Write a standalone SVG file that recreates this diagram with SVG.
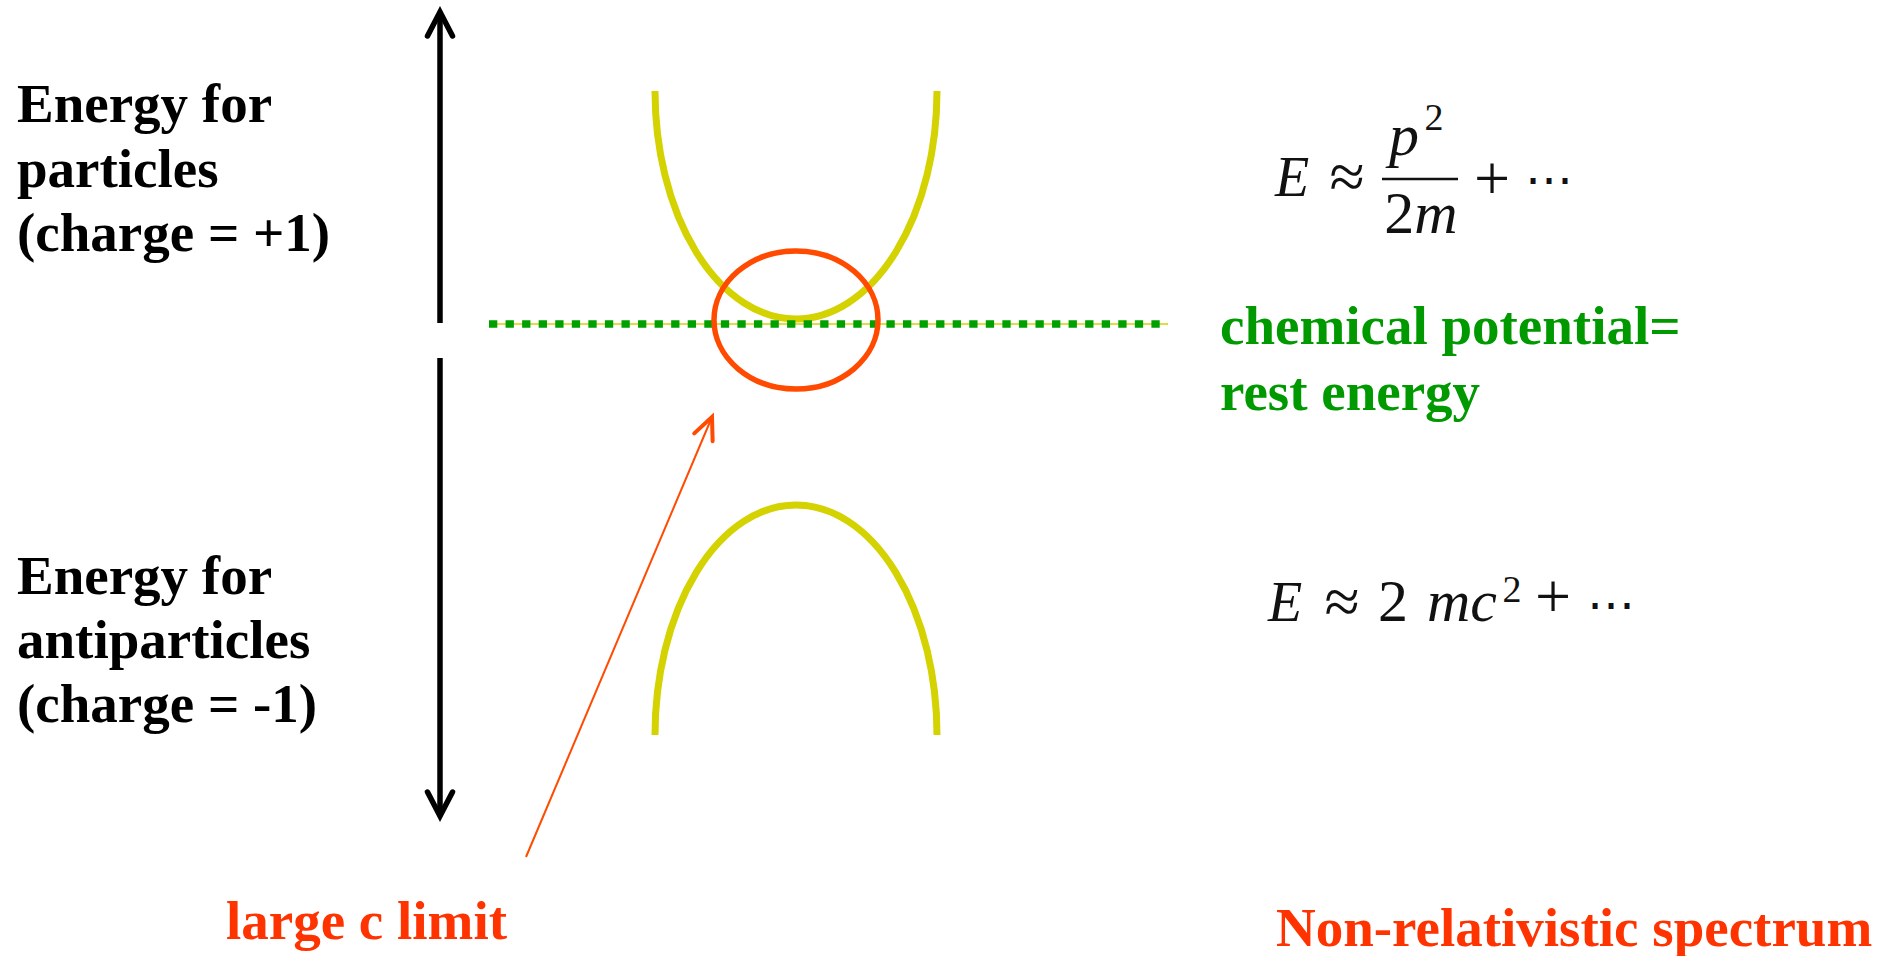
<svg xmlns="http://www.w3.org/2000/svg" width="1892" height="956" viewBox="0 0 1892 956">
<style>
.lbl{font-family:"Liberation Serif","Times New Roman",serif;font-weight:bold;font-size:55px}
.blk{fill:#000}
.grn{fill:#009a00}
.red{fill:#ff3300}
.math{font-family:"Liberation Serif","DejaVu Serif",serif;font-size:56px;fill:#111}
.it{font-style:italic}
.big{font-size:60px}
.op{font-size:64px}
.dots{font-size:48px}
.sup{font-size:38px}
.curve{fill:none;stroke:#d4d200;stroke-width:7}
</style>
<defs>
<marker id="blackHead" markerUnits="userSpaceOnUse" markerWidth="40" markerHeight="40" refX="30" refY="20" orient="auto">
<path d="M6 7.5 L30 20 L6 32.5" fill="none" stroke="#000" stroke-width="5.5" stroke-linecap="round"/>
</marker>
<marker id="redHead" markerUnits="userSpaceOnUse" markerWidth="32" markerHeight="32" refX="27" refY="16" orient="auto">
<path d="M5 6 L27 16 L5 26" fill="none" stroke="#ff4a00" stroke-width="4" stroke-linecap="round"/>
</marker>
</defs>
<rect width="1892" height="956" fill="#fff"/>

<g id="connectors">
<line x1="440" y1="323" x2="440" y2="12" stroke="#000" stroke-width="5.5" marker-end="url(#blackHead)"/>
<line x1="440" y1="358" x2="440" y2="816" stroke="#000" stroke-width="5.5" marker-end="url(#blackHead)"/>
<line x1="526" y1="857" x2="712" y2="417" stroke="#ff4a00" stroke-width="2" marker-end="url(#redHead)"/>
</g>

<g id="particle-band">
<path class="curve" d="M655 91 A141 228 0 0 0 937 91"/>
</g>
<g id="antiparticle-band">
<path class="curve" d="M655 735 A141 230 0 0 1 937 735"/>
</g>
<g id="chemical-potential-line">
<line x1="489" y1="324" x2="1168" y2="324" stroke="#d4d200" stroke-width="1.5"/>
<line x1="489" y1="324" x2="1168" y2="324" stroke="#00a000" stroke-width="7.5" stroke-dasharray="8.3 8.26"/>
</g>
<g id="limit-ellipse">
<ellipse cx="796" cy="320" rx="82" ry="69" fill="none" stroke="#ff4a00" stroke-width="5.5"/>
</g>

<g id="label-particles">
<text class="lbl blk" x="17" y="122">Energy for</text>
<text class="lbl blk" x="17" y="187">particles</text>
<text class="lbl blk" x="17" y="251">(charge = +1)</text>
</g>
<g id="label-antiparticles">
<text class="lbl blk" x="17" y="594">Energy for</text>
<text class="lbl blk" x="17" y="658">antiparticles</text>
<text class="lbl blk" x="17" y="722">(charge = -1)</text>
</g>
<g id="label-chemical">
<text class="lbl grn" x="1220" y="344">chemical potential=</text>
<text class="lbl grn" x="1220" y="410">rest energy</text>
</g>
<g id="label-large-c">
<text class="lbl red" x="226" y="939">large c limit</text>
</g>
<g id="label-nonrel">
<text class="lbl red" x="1276" y="946">Non-relativistic spectrum</text>
</g>

<g id="formula-particles" class="math" text-anchor="middle">
<text class="math it" x="1292" y="196">E</text>
<text class="math op" x="1347" y="198">≈</text>
<text class="math it big" x="1404" y="155">p</text>
<text class="math sup" x="1434" y="130">2</text>
<line x1="1382" y1="179" x2="1458" y2="179" stroke="#111" stroke-width="2.5"/>
<text class="math big" x="1421" y="233">2<tspan class="it">m</tspan></text>
<text class="math op" x="1492" y="200">+</text>
<text class="math dots" x="1549" y="196">⋯</text>
</g>
<g id="formula-antiparticles" class="math" text-anchor="middle">
<text class="math it" x="1285" y="621">E</text>
<text class="math op" x="1342" y="623">≈</text>
<text class="math big" x="1393" y="621">2</text>
<text class="math it big" x="1462" y="621">mc</text>
<text class="math sup" x="1512" y="602">2</text>
<text class="math op" x="1553" y="618">+</text>
<text class="math dots" x="1611" y="621">⋯</text>
</g>
</svg>
